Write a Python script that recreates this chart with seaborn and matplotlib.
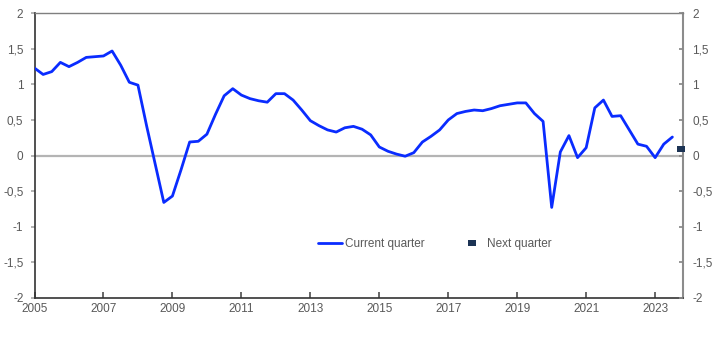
import numpy as np
import pandas as pd
import matplotlib
matplotlib.use("Agg")
import matplotlib.pyplot as plt
import seaborn as sns
from matplotlib.ticker import FuncFormatter

# ---- data ----
quarters = list(np.arange(2005.0, 2023.51, 0.25))
current_quarter = [
    1.23, 1.14, 1.18, 1.31,
    1.25, 1.31, 1.38, 1.39,
    1.40, 1.47, 1.27, 1.03,
    0.99, 0.42, -0.12, -0.66,
    -0.57, -0.20, 0.19, 0.20,
    0.30, 0.58, 0.84, 0.94,
    0.85, 0.80, 0.77, 0.75,
    0.87, 0.87, 0.78, 0.64,
    0.49, 0.42, 0.36, 0.33,
    0.39, 0.41, 0.37, 0.29,
    0.12, 0.06, 0.02, -0.01,
    0.04, 0.19, 0.27, 0.36,
    0.50, 0.59, 0.62, 0.64,
    0.63, 0.66, 0.70, 0.72,
    0.74, 0.74, 0.59, 0.48,
    -0.73, 0.05, 0.28, -0.03,
    0.11, 0.67, 0.78, 0.55,
    0.56, 0.36, 0.16, 0.13,
    -0.03, 0.16, 0.26,
]
next_quarter_x = [2023.75]
next_quarter = [0.09]
x_ticks = [2005, 2007, 2009, 2011, 2013, 2015, 2017, 2019, 2021, 2023]
y_ticks = [-2, -1.5, -1, -0.5, 0, 0.5, 1, 1.5, 2]

df = pd.DataFrame({"date": quarters, "value": current_quarter})
df_next = pd.DataFrame({"date": next_quarter_x, "value": next_quarter})

sns.set_theme(style="white")
plt.rcParams["font.family"] = ["Liberation Sans", "DejaVu Sans"]

text_col = "#595959"
fig = plt.figure(figsize=(7.22, 3.58), dpi=100)
ax = fig.add_axes([0.0478, 0.1684, 0.8978, 0.7944])

ax.axhline(0, color="#b4b4b4", lw=1.6, zorder=1)
sns.lineplot(data=df, x="date", y="value", ax=ax, color="#0a2cff", lw=2.0,
             label="Current quarter", zorder=3)
rect = [(-1, -0.75), (1, -0.75), (1, 0.75), (-1, 0.75), (-1, -0.75)]
ax.plot(df_next["date"], df_next["value"], ls="none", marker=rect, ms=5.5,
        mew=0, color="#1c3354", label="Next quarter", clip_on=False, zorder=4)

ax.set_xlim(2005, 2023.8)
ax.set_ylim(-2, 2)
ax.set_xticks(x_ticks)
ax.set_yticks(y_ticks)
fmt = FuncFormatter(lambda v, p: ("%g" % v).replace(".", ","))
ax.yaxis.set_major_formatter(fmt)
ax.set_xlabel("")
ax.set_ylabel("")

for s in ["left", "bottom"]:
    ax.spines[s].set_color("#333333")
    ax.spines[s].set_linewidth(1.2)
ax.spines["top"].set_color("#7f7f7f")
ax.spines["top"].set_linewidth(1.0)
ax.spines["right"].set_color("#8c8c8c")
ax.spines["right"].set_linewidth(1.5)

ax.tick_params(axis="x", direction="in", length=4, color="#555555",
               labelsize=8.5, labelcolor=text_col, pad=4, bottom=True)
ax.tick_params(axis="y", direction="out", length=3, color="#aaaaaa",
               labelsize=8.5, labelcolor=text_col, pad=5, left=True)

ax2 = ax.twinx()
ax2.set_ylim(-2, 2)
ax2.set_yticks(y_ticks)
ax2.yaxis.set_major_formatter(fmt)
ax2.tick_params(axis="y", direction="in", length=3, color="#888888",
                labelsize=8.5, labelcolor=text_col, pad=7, right=True)
for s in ax2.spines.values():
    s.set_visible(False)

leg = ax.legend(loc="center", bbox_to_anchor=(0.618, 0.19), ncol=2, frameon=False,
                fontsize=8.5, handlelength=2.0, handletextpad=0.3,
                columnspacing=3.0, labelcolor=text_col)

fig.savefig("out.png", dpi=100)
